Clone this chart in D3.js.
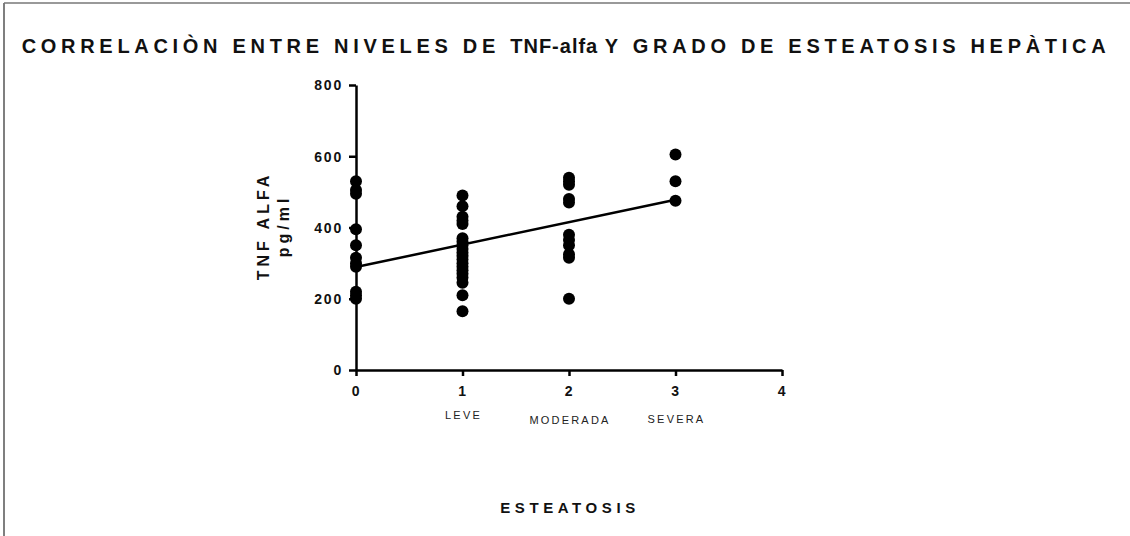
<!DOCTYPE html>
<html>
<head>
<meta charset="utf-8">
<script src="https://cdn.jsdelivr.net/npm/d3@7"></script>
<style>
  body { margin: 0; background: #fff; }
  text { font-family: "Liberation Sans", Arial, sans-serif; }
</style>
</head>
<body>
<div id="chart"></div>
<script>
// grado de esteatosis (0..3) y TNF-alfa (pg/ml)
const grado0 = [530, 505, 495, 395, 350, 315, 300, 290, 220, 210, 200];
const grado1 = [490, 460, 430, 420, 410, 370, 360, 350, 340, 330, 320, 310, 300, 290, 280, 270, 260, 245, 210, 165];
const grado2 = [540, 530, 520, 480, 470, 380, 365, 350, 325, 315, 200];
const grado3 = [605, 530, 475];
const grupos = [grado0, grado1, grado2, grado3];
const fitLine = [[0, 289], [3, 478]];
const xTicks = [0, 1, 2, 3, 4];
const yTicks = [0, 200, 400, 600, 800];
const categorias = [{ x: 1, label: "LEVE", dy: 0 }, { x: 2, label: "MODERADA", dy: 5 }, { x: 3, label: "SEVERA", dy: 4 }];

let width = 1130, height = 536;
let margin = { top: 85, left: 356, right: 348, bottom: 166 };

let svg = d3.select("#chart").append("svg")
    .attr("width", width)
    .attr("height", height);

// marco
svg.append("line").attr("x1", 4).attr("x2", 4).attr("y1", 3).attr("y2", height)
    .attr("stroke", "#555").attr("stroke-width", 1.5);
svg.append("line").attr("x1", 4).attr("x2", width).attr("y1", 3).attr("y2", 3)
    .attr("stroke", "#777").attr("stroke-width", 1.5);

let x = d3.scaleLinear().domain([0, 4]).range([margin.left, width - margin.right]);
let y = d3.scaleLinear().domain([0, 800]).range([height - margin.bottom, margin.top]);

// titulo
let title = svg.append("text")
    .attr("x", 566).attr("y", 53)
    .attr("text-anchor", "middle")
    .attr("fill", "#111")
    .style("font-size", "20px").style("font-weight", "bold");
title.append("tspan").attr("letter-spacing", "4.7px").text("CORRELACIÒN ENTRE NIVELES DE ");
title.append("tspan").attr("letter-spacing", "1px").text("TNF-alfa ");
title.append("tspan").attr("letter-spacing", "4.7px").text("Y GRADO DE ESTEATOSIS HEPÀTICA");

// ejes
let xAxis = svg.append("g")
    .attr("transform", "translate(0," + y(0) + ")")
    .call(d3.axisBottom(x).tickValues(xTicks).tickFormat(d3.format("d")).tickSize(6).tickSizeOuter(0).tickPadding(10));
let yAxis = svg.append("g")
    .attr("transform", "translate(" + x(0) + ",0)")
    .call(d3.axisLeft(y).tickValues(yTicks).tickFormat(d3.format("d")).tickSize(7).tickSizeOuter(0).tickPadding(6));

[xAxis, yAxis].forEach(function (g) {
    g.select(".domain").attr("stroke", "#000").attr("stroke-width", 2.5);
    g.selectAll(".tick line").attr("stroke", "#000").attr("stroke-width", 2.5);
    g.selectAll(".tick text")
        .attr("fill", "#111")
        .style("font-size", "14px")
        .style("font-weight", "bold")
        .style("font-family", "'Liberation Sans', Arial, sans-serif")
        .attr("letter-spacing", "1.8px");
});
yAxis.selectAll(".tick text").attr("dy", "0.35em");

// categorias
svg.selectAll(".cat").data(categorias).enter().append("text")
    .attr("class", "cat")
    .attr("x", function (d) { return x(d.x) + 1; })
    .attr("y", function (d) { return y(0) + 49 + d.dy; })
    .attr("text-anchor", "middle")
    .attr("letter-spacing", "2.2px")
    .attr("fill", "#222")
    .style("font-size", "11px")
    .text(function (d) { return d.label; });

// titulo eje x
svg.append("text")
    .attr("x", 570).attr("y", 513)
    .attr("text-anchor", "middle")
    .attr("letter-spacing", "4.6px")
    .style("font-size", "15px").style("font-weight", "bold")
    .attr("fill", "#111")
    .text("ESTEATOSIS");

// titulo eje y
let yLab = svg.append("text")
    .attr("transform", "translate(269," + 226 + ") rotate(-90)")
    .attr("text-anchor", "middle")
    .style("font-size", "16px").style("font-weight", "bold")
    .attr("letter-spacing", "4px")
    .attr("fill", "#111");
yLab.append("tspan").attr("x", 0).attr("dy", 0).text("TNF ALFA");
yLab.append("tspan").attr("x", 0).attr("dy", 20).text("pg/ml");

// recta de regresion
svg.append("line")
    .attr("x1", x(fitLine[0][0])).attr("y1", y(fitLine[0][1]))
    .attr("x2", x(fitLine[1][0])).attr("y2", y(fitLine[1][1]))
    .attr("stroke", "#000").attr("stroke-width", 2.5);

// puntos
let puntos = [];
grupos.forEach(function (vals, i) {
    vals.forEach(function (v) { puntos.push({ g: i, v: v }); });
});
svg.selectAll(".pt").data(puntos).enter().append("circle")
    .attr("class", "pt")
    .attr("cx", function (d) { return x(d.g); })
    .attr("cy", function (d) { return y(d.v); })
    .attr("r", 6)
    .attr("fill", "#000");
</script>
</body>
</html>
